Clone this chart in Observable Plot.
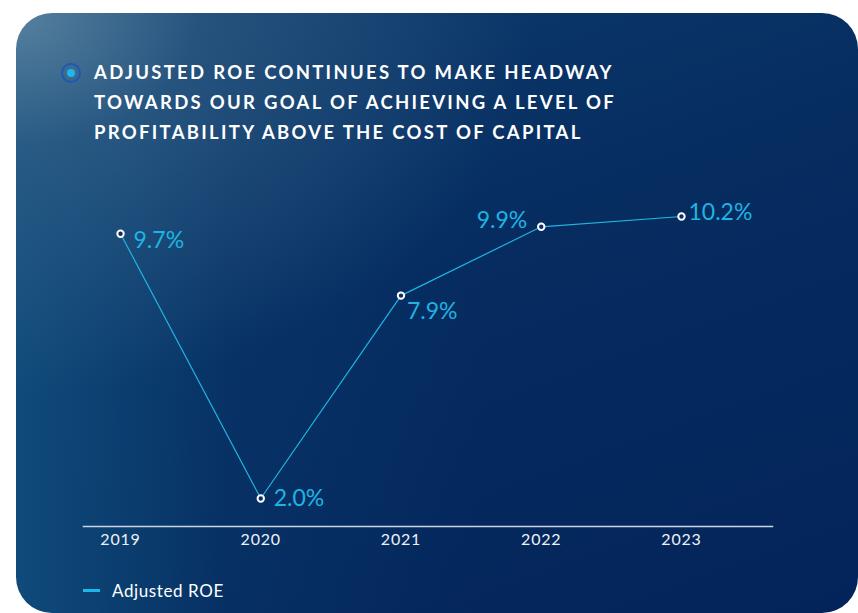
<!DOCTYPE html>
<html>
<head>
<meta charset="utf-8">
<script src="https://cdn.jsdelivr.net/npm/d3@7"></script>
<script src="https://cdn.jsdelivr.net/npm/@observablehq/plot@0.6"></script>
<style>
  html, body { margin: 0; padding: 0; background: #ffffff; }
  #wrap { position: relative; width: 858px; height: 613px; overflow: hidden; font-family: Lato, "Open Sans", sans-serif; }
  #card {
    position: absolute; left: 16px; top: 13px; width: 842px; height: 600px;
    border-radius: 36px;
    background:
      radial-gradient(ellipse 520px 380px at 0% 0%, rgba(110,145,170,0.75) 0%, rgba(70,110,145,0.45) 35%, rgba(20,70,120,0) 100%),
      linear-gradient(to right, rgba(16,78,125,0.9) 0%, rgba(10,60,110,0.4) 25%, rgba(4,40,92,0) 55%),
      linear-gradient(160deg, #0d3d6e 0%, #062c60 45%, #03245a 100%);
  }
  #icon { position: absolute; left: 61px; top: 63px; width: 16px; height: 16px; border: 2px solid #1d58b5; border-radius: 50%; }
  #icon::after { content: ""; position: absolute; left: 4px; top: 4px; width: 8px; height: 8px; border-radius: 50%; background: #1cb8ea; }
  #title { position: absolute; left: 94px; top: 57px; color: #ffffff; font-weight: 700; font-size: 18.5px; line-height: 30px; letter-spacing: 2.3px; white-space: nowrap; }
  #chart { position: absolute; left: 0; top: 0; }
  #chart g[aria-label="x-axis tick label"] text { letter-spacing: 0.8px; }
  #legend { position: absolute; left: 83px; top: 580px; display: flex; align-items: center; color: #ffffff; font-size: 17px; letter-spacing: 0.6px; }
  #legend .sw { width: 17px; height: 3px; background: #1cb8ea; margin-right: 12px; }
</style>
</head>
<body>
<div id="wrap">
  <div id="card"></div>
  <div id="icon"></div>
  <div id="title">ADJUSTED ROE CONTINUES TO MAKE HEADWAY<br>TOWARDS OUR GOAL OF ACHIEVING A LEVEL OF<br>PROFITABILITY ABOVE THE COST OF CAPITAL</div>
  <div id="chart"></div>
  <div id="legend"><div class="sw"></div><span>Adjusted ROE</span></div>
</div>
<script>
const years = [2019, 2020, 2021, 2022, 2023];
const roe = [9.7, 2.0, 7.9, 9.9, 10.2];
const roeLabels = ["9.7%", "2.0%", "7.9%", "9.9%", "10.2%"];
const seriesName = "Adjusted ROE";

const data = years.map((y, i) => ({year: y, value: roe[i], label: roeLabels[i]}));

// label placement (style, not data): [dx, dy, anchor]
const labelPlacement = [
  [13, 7, "start"],
  [13, 0, "start"],
  [6, 16, "start"],
  [-14, -6, "end"],
  [7, -4, "start"]
];

const lineColor = "#22b5e2";

const labelMarks = data.map((d, i) => Plot.text([d], {
  x: "year", y: "value", text: "label",
  dx: labelPlacement[i][0], dy: labelPlacement[i][1], textAnchor: labelPlacement[i][2],
  fill: "#1fb4e2", fontSize: 23, fontWeight: 400
}));

const chart = Plot.plot({
  width: 858,
  height: 560,
  marginLeft: 83,
  marginRight: 86,
  marginTop: 200,
  marginBottom: 34,
  style: {background: "transparent", fontFamily: "Lato, 'Open Sans', sans-serif", color: "#ffffff"},
  x: {type: "linear", domain: [2018.736, 2023.649], axis: null},
  y: {domain: [1.186, 10.665], axis: null},
  marks: [
    Plot.frame({anchor: "bottom", stroke: "#c9d5e6", strokeWidth: 1.5}),
    Plot.axisX({ticks: years, tickFormat: d => String(d), tickSize: 0, tickPadding: 7, fontSize: 16, fill: "#eef2f8", label: null}),
    Plot.line(data, {x: "year", y: "value", stroke: lineColor, strokeWidth: 1.2}),
    Plot.dot(data, {x: "year", y: "value", r: 3.2, fill: "#0a2f63", stroke: "#ffffff", strokeWidth: 2}),
    ...labelMarks
  ]
});
document.getElementById("chart").appendChild(chart);
</script>
</body>
</html>
